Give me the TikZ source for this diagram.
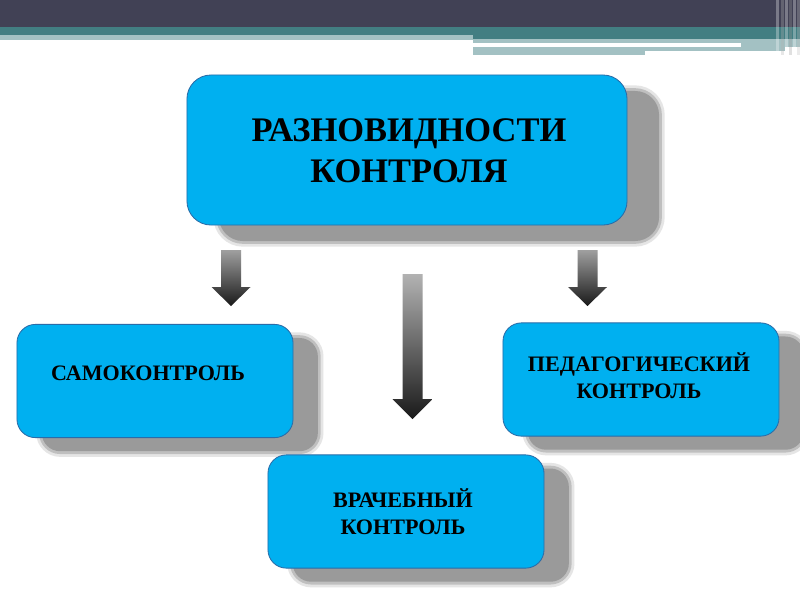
\documentclass[tikz,border=0pt]{standalone}
\usepackage{fontspec}
\setmainfont{Liberation Serif}
\usetikzlibrary{positioning, calc, shadows}
\definecolor{HeadDark}{HTML}{414155}
\definecolor{HeadTeal}{HTML}{427E82}
\definecolor{HeadPale}{HTML}{A3C1C3}
\definecolor{BoxCyan}{HTML}{00B0F0}
\definecolor{BoxEdge}{HTML}{2A6CA8}
\definecolor{ShadowGray}{HTML}{9A9A9A}

\tikzset{
  boxshade/.style 2 args={
    general shadow={shadow xshift=#1, shadow yshift=#2, draw=ShadowGray, line width=8pt, opacity=.25},
    general shadow={shadow xshift=#1, shadow yshift=#2, draw=ShadowGray, line width=4pt, opacity=.5},
    general shadow={shadow xshift=#1, shadow yshift=#2, fill=ShadowGray}},
  kindbox/.style={draw=BoxEdge, fill=BoxCyan, line width=0.6pt, inner sep=0pt},
  bigbox/.style={kindbox, rounded corners=0.6cm, minimum width=11cm, minimum height=3.75cm,
    boxshade={0.8cm}{-0.4cm}},
  smallbox/.style={kindbox, rounded corners=0.46cm, minimum width=6.9cm, minimum height=2.83cm,
    boxshade={0.62cm}{-0.34cm}},
  bigtext/.style={align=center, font=\fontsize{24.5}{29.5}\selectfont\bfseries},
  smalltext/.style={align=center, font=\fontsize{15.7}{19}\selectfont\bfseries},
  arrowfill/.style={top color=#1, bottom color=black!90},
}

% block arrow: x, top, neck, tip, shaft half width, head half width
\newcommand\blockarrow[7][gray!70]{%
  \shade[arrowfill=#1] ({#2-#6},#3) -- ({#2+#6},#3) -- ({#2+#6},#4) -- ({#2+#7},#4)
    -- (#2,#5) -- ({#2-#7},#4) -- ({#2-#6},#4) -- cycle;}

\begin{document}
\begin{tikzpicture}[x=0.025cm, y=-0.025cm]
  \useasboundingbox (0,0) rectangle (800,600);
  \fill[white] (0,0) rectangle (800,600);

  % title band
  \fill[HeadDark] (0,0) rectangle (800,27);
  \fill[HeadTeal] (0,27) rectangle (800,35);
  \fill[HeadTeal] (473,35) rectangle (800,39);
  \fill[HeadPale] (0,35) rectangle (473,40);
  \fill[HeadPale] (473,39) rectangle (800,43);
  \fill[HeadPale] (741,43) rectangle (800,47);
  \fill[HeadPale] (473,47) rectangle (645,55);
  \fill[HeadPale] (645,47) rectangle (785,51);
  \foreach \sx/\sc in {776/white!40, 781/black!30, 785/white!55, 789/black!40, 793/white!60, 797/black!25}
    \fill[\sc, opacity=.3] (\sx,0) rectangle ({\sx+2.5},55);

  % boxes
  \node[bigbox] (kinds) at (407,150) {};
  \node[bigtext] (kindstext) at ([shift={(2,1)}]kinds.center) {РАЗНОВИДНОСТИ\\КОНТРОЛЯ};

  \node[smallbox] (self) at (155,381) {};
  \node[smalltext] (selftext) at ([shift={(-7,-8)}]self.center) {САМОКОНТРОЛЬ};

  \node[smallbox] (teach) at (641,379.5) {};
  \node[smalltext] (teachtext) at ([shift={(-2,-3.5)}]teach.center) {ПЕДАГОГИЧЕСКИЙ\\КОНТРОЛЬ};

  \node[smallbox] (doctor) at (406,511.5) {};
  \node[smalltext] (doctortext) at ([shift={(-3,0)}]doctor.center) {ВРАЧЕБНЫЙ\\КОНТРОЛЬ};

  % arrows
  \blockarrow[gray!75]{231}{250}{287}{306}{10}{19.5}
  \blockarrow[gray!60]{412.5}{274}{399}{419}{10}{20}
  \blockarrow[gray!75]{587.5}{250}{287}{306}{10}{19.5}
\end{tikzpicture}
\end{document}
